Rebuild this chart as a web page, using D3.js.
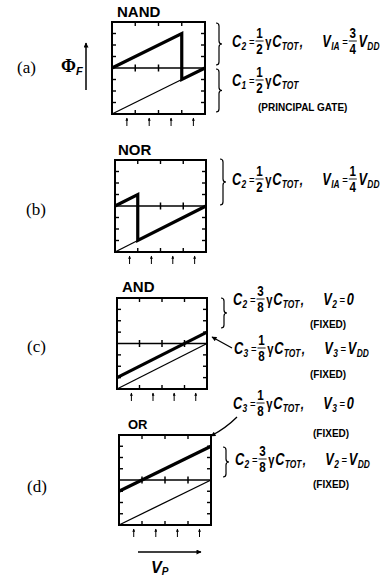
<!DOCTYPE html>
<html>
<head>
<meta charset="utf-8">
<script src="https://cdn.jsdelivr.net/npm/d3@7"></script>
<style>
  html, body { margin: 0; padding: 0; background: #fff; }
  svg { display: block; }
</style>
</head>
<body>
<svg id="fig" width="383" height="578"></svg>
<script>
// Floating-gate potential Φ_F versus input voltage V_P for four neuron-MOS gates.
const panelTags = ["(a)", "(b)", "(c)", "(d)"];
const gateNames = ["NAND", "NOR", "AND", "OR"];

// Traces in fractions of V_DD (x) and of the plotted Φ_F range (y)
const thinTraces = [
  [[0, 0], [0.75, 0.375]],
  [[0, 0], [0.25, 0.125]],
  [[0, 0], [1, 0.5]],
  [[0, 0], [1, 0.5]]
];
const thickTraces = [
  [[0, 0.5], [0.75, 0.875], [0.75, 0.375], [1, 0.5]],
  [[0, 0.5], [0.25, 0.625], [0.25, 0.125], [1, 0.5]],
  [[0, 0.125], [1, 0.625]],
  [[0, 0.375], [1, 0.875]]
];
const sideTicks = [0.125, 0.25, 0.375, 0.625, 0.75, 0.875];
const quarterTicks = [0.25, 0.5, 0.75];
const inputMarks = [0.16, 0.4, 0.635, 0.875];

// Coupling-condition formulas (tokens: X_sub, n/d fraction, "=", "γ", ",", "~" gap)
const formulaA1 = ["C_2", "=", "1/2", "γ", "C_TOT", ",", "~", "V_IA", "=", "3/4", "V_DD"];
const formulaA2 = ["C_1", "=", "1/2", "γ", "C_TOT"];
const formulaB1 = ["C_2", "=", "1/2", "γ", "C_TOT", ",", "~", "V_IA", "=", "1/4", "V_DD"];
const formulaC1 = ["C_2", "=", "3/8", "γ", "C_TOT", ",", "~", "V_2", "=", "0"];
const formulaC2 = ["C_3", "=", "1/8", "γ", "C_TOT", ",", "~", "V_3", "=", "V_DD"];
const formulaD1 = ["C_3", "=", "1/8", "γ", "C_TOT", ",", "~", "V_3", "=", "0"];
const formulaD2 = ["C_2", "=", "3/8", "γ", "C_TOT", ",", "~", "V_2", "=", "V_DD"];
const captions = ["(PRINCIPAL GATE)", "(FIXED)"];

const svg = d3.select("#fig");
const SANS = "'Liberation Sans', Arial, sans-serif";
const SERIF = "'Liberation Serif', 'Times New Roman', serif";

// arrowhead markers
const defs = svg.append("defs");
defs.append("marker")
  .attr("id", "head").attr("viewBox", "0 0 10 10")
  .attr("refX", 9).attr("refY", 5)
  .attr("markerWidth", 7).attr("markerHeight", 5)
  .attr("markerUnits", "userSpaceOnUse")
  .attr("orient", "auto")
  .append("path").attr("d", "M0,0 L10,5 L0,10 Z").attr("fill", "#000");
defs.append("marker")
  .attr("id", "headSmall").attr("viewBox", "0 0 10 10")
  .attr("refX", 9).attr("refY", 5)
  .attr("markerWidth", 4).attr("markerHeight", 3)
  .attr("markerUnits", "userSpaceOnUse")
  .attr("orient", "auto")
  .append("path").attr("d", "M0,0 L10,5 L0,10 Z").attr("fill", "#000");

// plot frames
const frames = [
  { x: 112, y: 22, w: 93, h: 92, titleX: 117, titleY: 17, titleSize: 15, tagX: 17, tagY: 73 },
  { x: 115, y: 160, w: 91, h: 92, titleX: 118, titleY: 155, titleSize: 15, tagX: 26, tagY: 215 },
  { x: 117, y: 298, w: 90, h: 91, titleX: 122, titleY: 292, titleSize: 15, tagX: 27, tagY: 352 },
  { x: 119, y: 435, w: 92, h: 90, titleX: 128, titleY: 429, titleSize: 13, tagX: 27, tagY: 492 }
];

const line = d3.line();

frames.forEach((f, i) => {
  const x = d3.scaleLinear().domain([0, 1]).range([f.x, f.x + f.w]);
  const y = d3.scaleLinear().domain([0, 1]).range([f.y + f.h, f.y]);
  const g = svg.append("g");

  // thin trace
  g.append("path")
    .attr("d", line(thinTraces[i].map(p => [x(p[0]), y(p[1])])))
    .attr("fill", "none").attr("stroke", "#000").attr("stroke-width", 1.3);

  // centre line with its quarter ticks
  g.append("line")
    .attr("x1", x(0)).attr("x2", x(1)).attr("y1", y(0.5)).attr("y2", y(0.5))
    .attr("stroke", "#000").attr("stroke-width", 1.5);
  g.selectAll(".mt").data(quarterTicks).enter().append("line")
    .attr("x1", d => x(d)).attr("x2", d => x(d))
    .attr("y1", y(0.5) - 3.5).attr("y2", y(0.5) + 3.5)
    .attr("stroke", "#000").attr("stroke-width", 1.5);

  // thick trace
  g.append("path")
    .attr("d", line(thickTraces[i].map(p => [x(p[0]), y(p[1])])))
    .attr("fill", "none").attr("stroke", "#000").attr("stroke-width", 3.2)
    .attr("stroke-linejoin", "miter");

  // frame
  g.append("rect")
    .attr("x", x(0)).attr("y", y(1)).attr("width", x(1) - x(0)).attr("height", y(0) - y(1))
    .attr("fill", "none").attr("stroke", "#000").attr("stroke-width", 2);

  // edge ticks
  quarterTicks.forEach(d => {
    g.append("line").attr("x1", x(d)).attr("x2", x(d)).attr("y1", y(1)).attr("y2", y(1) + 4)
      .attr("stroke", "#000").attr("stroke-width", 1.4);
    g.append("line").attr("x1", x(d)).attr("x2", x(d)).attr("y1", y(0)).attr("y2", y(0) - 4)
      .attr("stroke", "#000").attr("stroke-width", 1.4);
  });
  sideTicks.forEach(d => {
    g.append("line").attr("x1", x(0)).attr("x2", x(0) + 4).attr("y1", y(d)).attr("y2", y(d))
      .attr("stroke", "#000").attr("stroke-width", 1.4);
    g.append("line").attr("x1", x(1)).attr("x2", x(1) - 4).attr("y1", y(d)).attr("y2", y(d))
      .attr("stroke", "#000").attr("stroke-width", 1.4);
  });

  // input sample marks below the frame
  inputMarks.forEach(d => {
    g.append("line")
      .attr("x1", x(d)).attr("x2", x(d))
      .attr("y1", y(0) + 12).attr("y2", y(0) + 4)
      .attr("stroke", "#000").attr("stroke-width", 1)
      .attr("marker-end", "url(#headSmall)");
  });

  // gate name
  svg.append("text")
    .attr("x", f.titleX).attr("y", f.titleY)
    .attr("font-family", SANS).attr("font-weight", "bold").attr("font-size", f.titleSize)
    .text(gateNames[i]);

  // panel tag
  svg.append("text")
    .attr("x", f.tagX).attr("y", f.tagY)
    .attr("font-family", SERIF).attr("font-size", 17)
    .text(panelTags[i]);
});

// Φ_F axis label with arrow
const phi = svg.append("text").attr("x", 61).attr("y", 72)
  .attr("font-family", SERIF).attr("font-weight", "bold").attr("font-size", 18);
phi.append("tspan").text("Φ");
phi.append("tspan").attr("dy", 3).attr("font-family", SANS).attr("font-style", "italic")
  .attr("font-size", 11).text("F");
svg.append("line").attr("x1", 86).attr("x2", 86).attr("y1", 90).attr("y2", 43)
  .attr("stroke", "#000").attr("stroke-width", 1.5).attr("marker-end", "url(#head)");

// V_P axis label with arrow
svg.append("line").attr("x1", 138).attr("x2", 201).attr("y1", 552).attr("y2", 552)
  .attr("stroke", "#000").attr("stroke-width", 1.5).attr("marker-end", "url(#head)");
const vp = svg.append("text").attr("x", 151).attr("y", 573)
  .attr("font-family", SANS).attr("font-weight", "bold").attr("font-style", "italic")
  .attr("font-size", 16);
vp.append("tspan").text("V");
vp.append("tspan").attr("dy", 1.5).attr("font-size", 10).text("P");

// formula typesetting
function formula(tokens, x0, y0, sx) {
  const grp = svg.append("g").attr("transform", `translate(${x0},${y0}) scale(${sx},1)`);
  let cx = 0;
  const put = (txt, dx, dy, size, opts) => {
    const t = grp.append("text").attr("x", cx + dx).attr("y", dy)
      .attr("font-family", opts.family || SANS)
      .attr("font-weight", opts.weight || "bold")
      .attr("font-style", opts.style || "normal")
      .attr("font-size", size).text(txt);
    return t.node().getComputedTextLength();
  };
  tokens.forEach(tok => {
    if (tok === "~") { cx += 22; return; }
    if (tok === "=") { cx += 2; cx += put("=", 0, -1, 12, { weight: "normal" }) + 2; return; }
    if (tok === ",") { cx += put(",", 0, 0, 15, { style: "italic" }) + 2; return; }
    if (tok === "γ") { cx += put("γ", 0, 0, 14, {}) + 1; return; }
    if (tok.includes("/")) {
      const [n, d] = tok.split("/");
      const wn = put(n, 0, -9.5, 14.5, {});
      const wd = put(d, 0, 6.5, 14.5, {});
      const w = Math.max(wn, wd);
      grp.append("line").attr("x1", cx - 1).attr("x2", cx + w + 1)
        .attr("y1", -6).attr("y2", -6).attr("stroke", "#000").attr("stroke-width", 1);
      cx += w + 3;
      return;
    }
    if (tok.includes("_")) {
      const [m, s] = tok.split("_");
      cx += put(m, 0, 0, 16, { style: "italic" });
      cx += put(s, 0.5, 3, 10.5, { style: "italic" }) + 2;
      return;
    }
    cx += put(tok, 0, 0, 16, { style: "italic" }) + 1;
  });
  return cx * sx;
}

function caption(txt, x0, y0) {
  svg.append("text").attr("x", x0).attr("y", y0)
    .attr("font-family", SANS).attr("font-weight", "bold").attr("font-size", 10)
    .text(txt);
}

function brace(x0, y0, y1, w) {
  const ym = (y0 + y1) / 2, xm = x0 + w / 2, r = 3;
  const d = `M${x0},${y0} Q${xm},${y0} ${xm},${y0 + r} L${xm},${ym - r} Q${xm},${ym} ${x0 + w},${ym}
             Q${xm},${ym} ${xm},${ym + r} L${xm},${y1 - r} Q${xm},${y1} ${x0},${y1}`;
  svg.append("path").attr("d", d).attr("fill", "none").attr("stroke", "#000").attr("stroke-width", 1.2);
}

const SX = 0.8;

// (a) NAND
brace(216, 23, 65, 6);
formula(formulaA1, 232, 47, SX);
brace(216, 69, 112, 6);
formula(formulaA2, 232, 86, SX);
caption(captions[0], 258, 111);

// (b) NOR
brace(220, 159, 205, 6);
formula(formulaB1, 232, 185, SX);

// (c) AND
brace(221, 298, 328, 6);
formula(formulaC1, 233, 305, SX);
caption(captions[1], 310, 328);
svg.append("line").attr("x1", 232).attr("y1", 348).attr("x2", 212).attr("y2", 337)
  .attr("stroke", "#000").attr("stroke-width", 1.3).attr("marker-end", "url(#head)");
formula(formulaC2, 234, 354, SX);
caption(captions[1], 310, 378);

// (d) OR
formula(formulaD1, 233, 409, SX);
caption(captions[1], 313, 437);
svg.append("path").attr("d", "M237,417 Q226,428 211,436")
  .attr("fill", "none").attr("stroke", "#000").attr("stroke-width", 1.3)
  .attr("marker-end", "url(#head)");
brace(223, 447, 477, 6);
formula(formulaD2, 235, 465, SX);
caption(captions[1], 313, 488);
</script>
</body>
</html>
